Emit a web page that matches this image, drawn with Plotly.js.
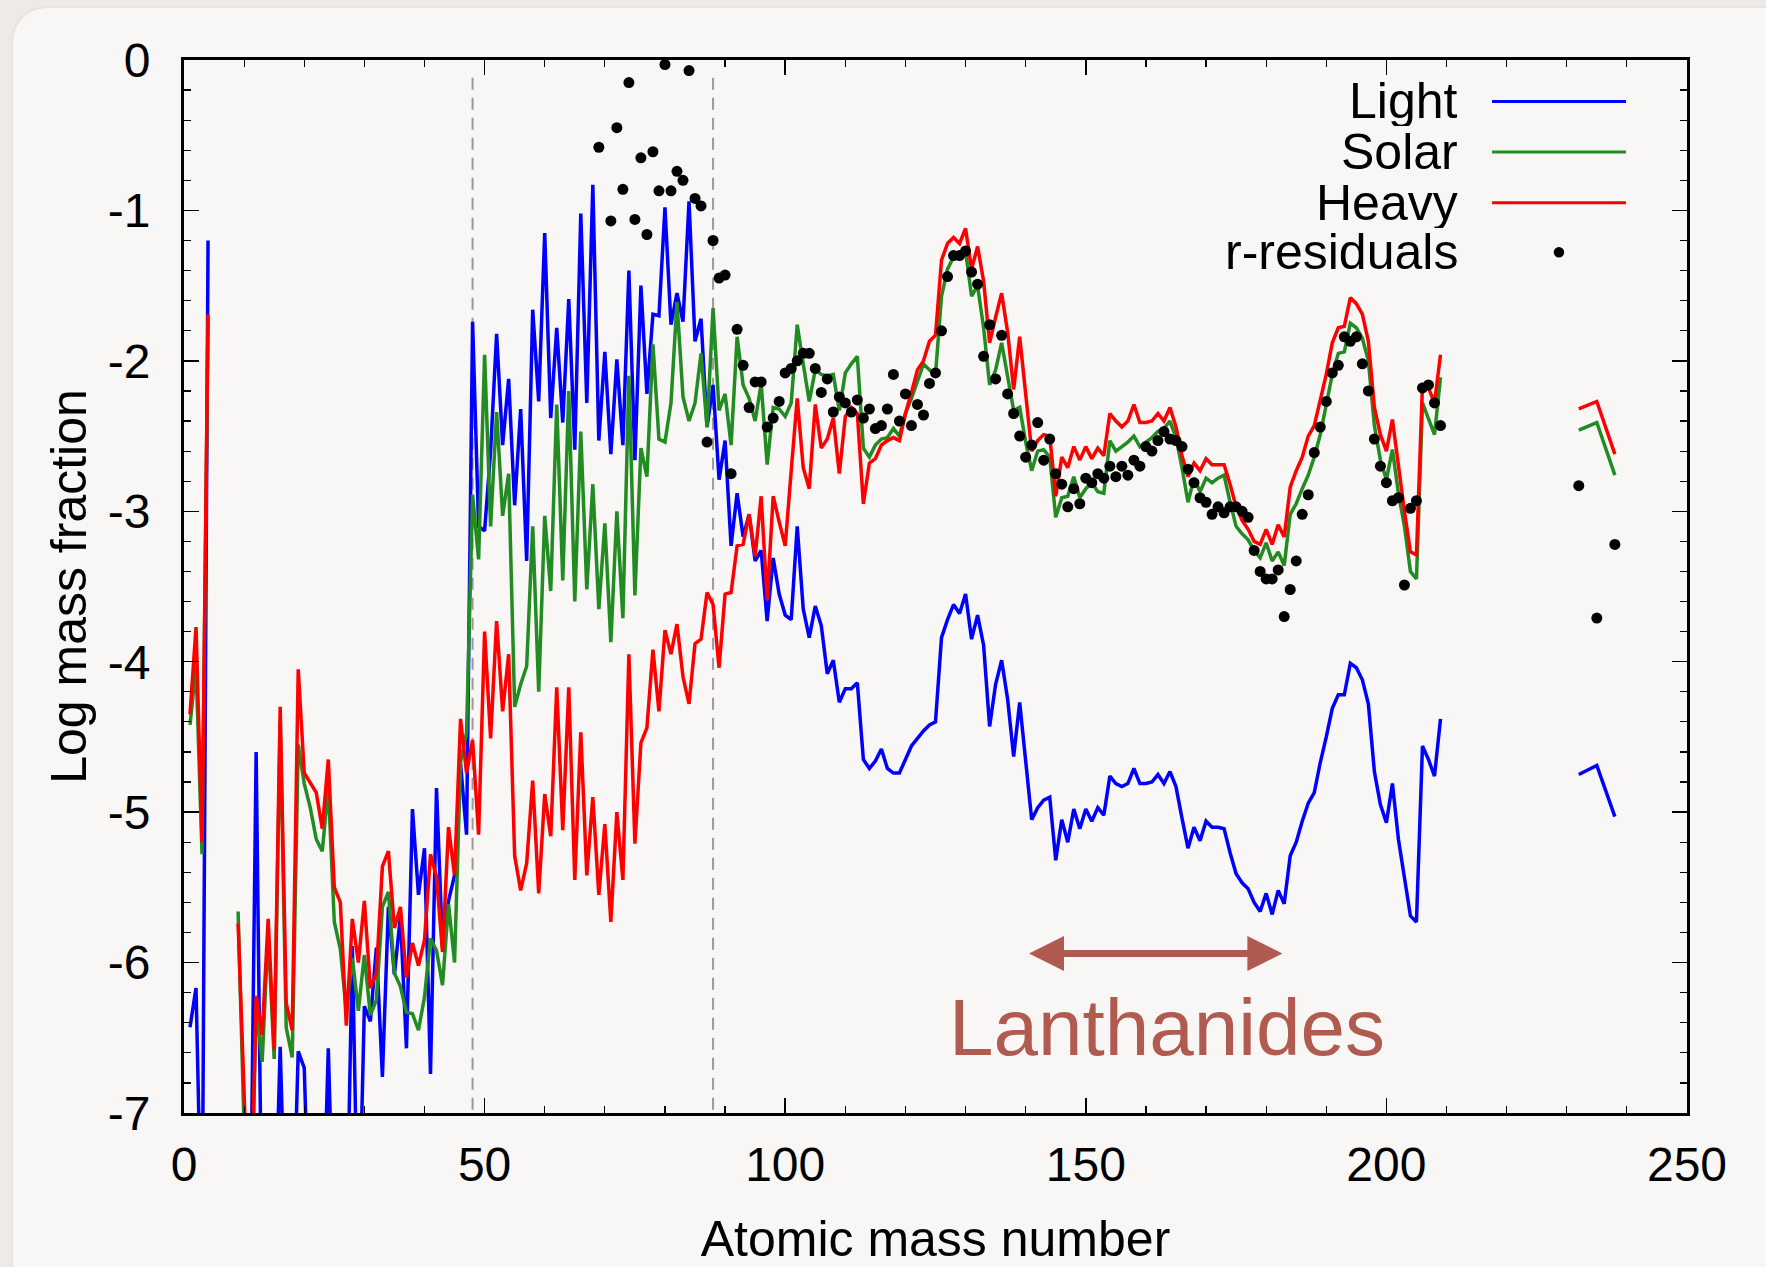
<!DOCTYPE html>
<html><head><meta charset="utf-8">
<script src="https://cdn.plot.ly/plotly-3.0.1.min.js"></script>
<style>
html,body{margin:0;padding:0;background:#eeebe6;width:1766px;height:1267px;overflow:hidden;}
#card{position:absolute;left:13px;top:8px;width:1800px;height:1320px;background:#f8f7f5;border-radius:34px;box-shadow:0 0 5px rgba(0,0,0,0.07);}
#chart{position:absolute;left:0;top:0;width:1766px;height:1267px;}
</style></head><body>
<div id="card"></div><div id="chart"></div>
<script>
// ---------- data (log10 mass fraction vs atomic mass number) ----------
const massNumber = [
  1,2,3,4,5,6,7,8,9,10,
  11,12,13,14,15,16,17,18,19,20,
  21,22,23,24,25,26,27,28,29,30,
  31,32,33,34,35,36,37,38,39,40,
  41,42,43,44,45,46,47,48,49,50,
  51,52,53,54,55,56,57,58,59,60,
  61,62,63,64,65,66,67,68,69,70,
  71,72,73,74,75,76,77,78,79,80,
  81,82,83,84,85,86,87,88,89,90,
  91,92,93,94,95,96,97,98,99,100,
  101,102,103,104,105,106,107,108,109,110,
  111,112,113,114,115,116,117,118,119,120,
  121,122,123,124,125,126,127,128,129,130,
  131,132,133,134,135,136,137,138,139,140,
  141,142,143,144,145,146,147,148,149,150,
  151,152,153,154,155,156,157,158,159,160,
  161,162,163,164,165,166,167,168,169,170,
  171,172,173,174,175,176,177,178,179,180,
  181,182,183,184,185,186,187,188,189,190,
  191,192,193,194,195,196,197,198,199,200,
  201,202,203,204,205,206,207,208,209
];
// values below -7 fall outside the plotted range
const lightFraction = [
  -6.43,-6.17,-8,-1.20,null,null,null,null,-8,-8,
  -8,-4.60,-8,-8,-8,-6.56,-8,-8,-6.59,-6.70,
  -8,-8,-8,-6.57,-8,-8,-8,-5.89,-8,-6.29,
  -6.39,-5.90,-6.76,-5.63,-6.08,-5.69,-6.57,-4.98,-5.55,-5.24,
  -6.74,-4.84,-5.90,-5.59,-5.42,-4.68,-5.15,-1.74,-3.10,-3.13,
  -2.60,-1.82,-2.56,-2.12,-2.96,-2.32,-3.33,-1.66,-2.27,-1.15,
  -2.38,-1.78,-2.41,-1.59,-2.59,-1.02,-2.28,-0.83,-2.53,-1.94,
  -2.62,-1.99,-2.56,-1.40,-2.66,-1.50,-2.22,-1.69,-1.70,-0.98,
  -1.76,-1.55,-1.74,-0.94,-1.87,-1.72,-2.44,-2.16,-2.79,-2.53,
  -3.23,-2.88,-3.17,-3.02,-3.33,-3.26,-3.73,-3.31,-3.55,-3.69,
  -3.72,-3.10,-3.65,-3.84,-3.63,-3.76,-4.08,-3.99,-4.27,-4.18,
  -4.18,-4.14,-4.65,-4.71,-4.66,-4.58,-4.71,-4.74,-4.74,-4.65,
  -4.56,-4.51,-4.46,-4.42,-4.40,-3.84,-3.72,-3.62,-3.68,-3.55,
  -3.85,-3.69,-3.89,-4.43,-4.15,-3.99,-4.25,-4.63,-4.27,-4.66,
  -5.05,-4.97,-4.92,-4.90,-5.32,-5.05,-5.20,-4.98,-5.11,-4.98,
  -5.06,-4.97,-5.02,-4.76,-4.81,-4.83,-4.81,-4.71,-4.81,-4.81,
  -4.80,-4.75,-4.81,-4.73,-4.83,-5.04,-5.24,-5.10,-5.19,-5.06,
  -5.10,-5.10,-5.11,-5.27,-5.41,-5.47,-5.51,-5.60,-5.66,-5.54,
  -5.68,-5.52,-5.61,-5.29,-5.20,-5.06,-4.94,-4.87,-4.67,-4.50,
  -4.31,-4.22,-4.22,-4.01,-4.04,-4.12,-4.28,-4.73,-4.95,-5.07,
  -4.81,-5.18,-5.45,-5.69,-5.73,-4.56,-4.65,-4.76,-4.38
];
const solarFraction = [
  -4.42,-4.03,-5.28,-1.72,null,null,null,null,-5.66,-7.10,
  -8,-6.30,-6.66,-5.80,-6.64,-4.40,-6.43,-6.63,-4.55,-4.81,
  -4.97,-5.18,-5.26,-4.83,-5.73,-5.91,-6.32,-5.97,-6.32,-5.95,
  -6.35,-6.25,-5.63,-5.53,-6.07,-6.16,-6.33,-6.34,-6.45,-6.23,
  -5.84,-5.92,-6.15,-5.61,-6.00,-4.67,-4.47,-2.89,-3.32,-1.96,
  -3.10,-2.34,-3.03,-2.75,-4.30,-4.15,-4.03,-3.10,-4.20,-3.03,
  -3.53,-2.29,-3.46,-2.20,-3.60,-2.47,-3.52,-2.82,-3.65,-3.08,
  -3.87,-3.00,-3.71,-2.10,-3.56,-2.58,-2.77,-1.89,-2.52,-2.54,
  -2.28,-1.61,-2.24,-2.40,-2.28,-1.95,-2.44,-1.65,-2.33,-2.22,
  -2.56,-1.84,-2.16,-2.25,-2.40,-2.15,-2.69,-2.31,-2.32,-2.37,
  -2.28,-1.76,-2.02,-2.27,-2.06,-2.09,-2.10,-2.09,-2.33,-2.08,
  -2.02,-1.97,-2.58,-2.64,-2.56,-2.52,-2.51,-2.45,-2.50,-2.35,
  -2.25,-2.13,-2.02,-2.06,-2.09,-1.57,-1.39,-1.31,-1.31,-1.27,
  -1.57,-1.50,-1.78,-2.16,-2.06,-1.88,-2.09,-2.33,-2.31,-2.54,
  -2.73,-2.60,-2.59,-2.64,-3.04,-2.91,-2.90,-2.77,-2.91,-2.85,
  -2.81,-2.87,-2.88,-2.53,-2.60,-2.57,-2.54,-2.50,-2.57,-2.54,
  -2.51,-2.47,-2.45,-2.40,-2.51,-2.71,-2.94,-2.78,-2.87,-2.78,
  -2.81,-2.78,-2.76,-2.94,-3.10,-3.15,-3.19,-3.26,-3.31,-3.21,
  -3.33,-3.27,-3.36,-3.02,-2.95,-2.85,-2.76,-2.64,-2.49,-2.29,
  -2.09,-1.95,-1.94,-1.75,-1.78,-1.85,-2.00,-2.43,-2.66,-2.79,
  -2.59,-2.88,-3.10,-3.40,-3.45,-2.28,-2.38,-2.49,-2.11
];
const heavyFraction = [
  -4.35,-3.77,-5.20,-1.69,null,null,null,null,-5.74,-7.05,
  -8,-6.22,-6.48,-5.71,-6.58,-4.30,-6.27,-6.45,-4.05,-4.74,
  -4.81,-4.87,-5.11,-4.65,-5.50,-5.60,-6.42,-5.71,-6.00,-5.59,
  -6.17,-6.07,-5.36,-5.26,-5.77,-5.63,-6.10,-5.87,-6.02,-5.85,
  -5.28,-5.43,-5.93,-5.10,-5.42,-4.38,-4.74,-4.52,-5.15,-3.80,
  -4.51,-3.73,-4.33,-3.95,-5.29,-5.52,-5.34,-4.79,-5.54,-4.88,
  -5.16,-4.17,-5.12,-4.17,-5.45,-4.47,-5.42,-4.90,-5.55,-5.08,
  -5.73,-5.00,-5.45,-3.95,-5.21,-4.54,-4.44,-3.92,-4.33,-3.79,
  -3.95,-3.75,-4.10,-4.28,-3.88,-3.85,-3.54,-3.62,-4.04,-3.55,
  -3.54,-3.23,-3.22,-3.02,-3.30,-2.90,-3.59,-2.90,-3.07,-3.23,
  -2.73,-2.25,-2.71,-2.85,-2.29,-2.58,-2.52,-2.38,-2.75,-2.37,
  -2.31,-2.35,-2.95,-2.68,-2.65,-2.56,-2.53,-2.51,-2.53,-2.35,
  -2.21,-2.06,-2.00,-1.87,-1.83,-1.33,-1.22,-1.18,-1.22,-1.12,
  -1.39,-1.24,-1.47,-1.88,-1.71,-1.55,-1.81,-2.19,-1.84,-2.25,
  -2.60,-2.53,-2.49,-2.50,-2.90,-2.64,-2.71,-2.57,-2.66,-2.57,
  -2.65,-2.58,-2.63,-2.35,-2.40,-2.44,-2.40,-2.29,-2.41,-2.41,
  -2.40,-2.35,-2.40,-2.31,-2.44,-2.63,-2.77,-2.68,-2.73,-2.65,
  -2.69,-2.69,-2.69,-2.82,-2.97,-3.06,-3.12,-3.20,-3.22,-3.12,
  -3.22,-3.09,-3.17,-2.84,-2.73,-2.64,-2.50,-2.43,-2.27,-2.09,
  -1.88,-1.78,-1.77,-1.58,-1.62,-1.69,-1.87,-2.31,-2.49,-2.60,
  -2.39,-2.71,-3.00,-3.27,-3.29,-2.16,-2.18,-2.28,-1.96
];
// actinides (Th, U)
const actinideMass = [232, 235, 238];
const lightActinides = [-4.75, -4.69, -5.03];
const solarActinides = [-2.46, -2.41, -2.76];
const heavyActinides = [-2.32, -2.27, -2.62];
// r-process residuals
const residualMass = [
  69,71,72,73,74,75,76,77,78,79,80,
  81,82,83,84,85,86,87,88,89,90,
  91,92,93,94,95,96,97,98,99,100,
  101,102,103,104,105,106,107,108,109,110,
  111,112,113,114,115,116,117,118,119,120,
  121,122,123,124,125,126,127,128,129,130,
  131,132,133,134,135,136,137,138,139,140,
  141,142,143,144,145,146,147,148,149,150,
  151,152,153,154,155,156,157,158,159,160,
  161,162,163,164,165,166,167,168,169,170,
  171,172,173,174,175,176,177,178,179,180,
  181,182,183,184,185,186,187,188,189,190,
  191,192,193,194,195,196,197,198,199,200,
  201,202,203,204,205,206,207,208,209,
  232,235,238
];
const residualFraction = [
  -0.58,-1.07,-0.45,-0.86,-0.15,-1.06,-0.65,-1.16,-0.61,-0.87,-0.03,
  -0.87,-0.74,-0.80,-0.07,-0.92,-0.97,-2.54,-1.20,-1.45,-1.43,
  -2.75,-1.79,-2.03,-2.31,-2.14,-2.14,-2.44,-2.38,-2.27,-2.08,
  -2.05,-2.00,-1.95,-1.95,-2.05,-2.21,-2.12,-2.34,-2.24,-2.28,
  -2.34,-2.26,-2.38,-2.32,-2.45,-2.43,-2.32,-2.09,-2.40,-2.22,
  -2.43,-2.29,-2.36,-2.15,-2.08,-1.80,-1.44,-1.30,-1.30,-1.27,
  -1.41,-1.49,-1.97,-1.76,-2.12,-1.83,-2.22,-2.35,-2.50,-2.64,
  -2.56,-2.41,-2.66,-2.52,-2.75,-2.82,-2.97,-2.85,-2.95,-2.78,
  -2.81,-2.75,-2.78,-2.70,-2.77,-2.70,-2.76,-2.66,-2.70,-2.57,
  -2.60,-2.53,-2.47,-2.52,-2.53,-2.57,-2.72,-2.81,-2.91,-2.94,
  -3.02,-2.97,-3.01,-2.97,-2.97,-3.00,-3.04,-3.26,-3.40,-3.45,
  -3.45,-3.39,-3.70,-3.52,-3.33,-3.02,-2.89,-2.61,-2.44,-2.27,
  -2.08,-2.03,-1.84,-1.87,-1.84,-2.02,-2.20,-2.52,-2.70,-2.81,
  -2.93,-2.91,-3.49,-2.98,-2.93,-2.18,-2.16,-2.28,-2.43,
  -2.83,-3.71,-3.22
];
const seriesNames = ['Light', 'Solar', 'Heavy', 'r-residuals'];
const xTickVals = [0, 50, 100, 150, 200, 250];
const xTickLabels = ['0', '50', '100', '150', '200', '250'];
const yTickVals = [0, -1, -2, -3, -4, -5, -6, -7];
const yTickLabels = ['0', '-1', '-2', '-3', '-4', '-5', '-6', '-7'];
const dividerMass = [48, 88];
const lanthanideRange = [140.3, 182.7];
const lanthanideLabel = 'Lanthanides';

// ---------- styles ----------
const FONT = 'Liberation Sans, Arial, Helvetica, sans-serif';
const colors = ['#0000ff', '#228b22', '#ff0000', '#000000'];
const annoColor = '#b05a50';

const lineSeries = [
  [lightFraction, lightActinides],
  [solarFraction, solarActinides],
  [heavyFraction, heavyActinides]
];
const traces = [];
lineSeries.forEach((s, i) => {
  traces.push({x: massNumber, y: s[0], mode: 'lines', name: seriesNames[i],
    line: {color: colors[i], width: 3.5}, connectgaps: false, showlegend: false, hoverinfo: 'skip'});
  traces.push({x: actinideMass, y: s[1], mode: 'lines', name: seriesNames[i],
    line: {color: colors[i], width: 3.5}, showlegend: false, hoverinfo: 'skip'});
});
traces.push({x: residualMass, y: residualFraction, mode: 'markers', name: seriesNames[3],
  marker: {color: '#000', size: 11}, cliponaxis: false, showlegend: false, hoverinfo: 'skip'});

// ---------- legend (gnuplot style: text right, sample on the right) ----------
const legY = [0.9607, 0.9126, 0.8645, 0.8174];
const legTextX = 0.849, legS0 = 0.8703, legS1 = 0.9594, legDot = 0.9148;
const shapes = [];
const annotations = [];
dividerMass.forEach(a => shapes.push({type: 'line', xref: 'x', yref: 'paper', x0: a, x1: a, y0: 0.003, y1: 0.99,
  line: {color: '#9a9a9a', width: 2, dash: '12px,8px'}, layer: 'below'}));
seriesNames.forEach((n, i) => {
  annotations.push({xref: 'paper', yref: 'paper', x: legTextX, y: legY[i], xanchor: 'right', yanchor: 'middle',
    text: n, showarrow: false, height: 50, font: {family: FONT, size: 50, color: '#000'}});
  if (i < 3) {
    shapes.push({type: 'line', xref: 'paper', yref: 'paper', x0: legS0, x1: legS1, y0: legY[i], y1: legY[i],
      line: {color: colors[i], width: 3}});
  } else {
    shapes.push({type: 'circle', xref: 'paper', yref: 'paper', x0: legDot - 0.0035, x1: legDot + 0.0035,
      y0: legY[i] - 0.005, y1: legY[i] + 0.005, fillcolor: '#000', line: {width: 0}});
  }
});
// lanthanide arrow + label
annotations.push({x: lanthanideRange[1], y: -5.94, ax: lanthanideRange[0], ay: -5.94, axref: 'x', ayref: 'y',
  xref: 'x', yref: 'y', text: '', showarrow: true, arrowhead: 2, startarrowhead: 2, arrowside: 'end+start',
  arrowwidth: 7, arrowsize: 1.0, startarrowsize: 1.0, arrowcolor: annoColor, standoff: 0, startstandoff: 0});
annotations.push({x: (lanthanideRange[0] + lanthanideRange[1]) / 2 + 2, y: -6.43, xref: 'x', yref: 'y',
  text: lanthanideLabel, showarrow: false, xanchor: 'center', yanchor: 'middle',
  font: {family: FONT, size: 80, color: annoColor}});

const axisCommon = {
  showline: true, linewidth: 3, linecolor: '#000', mirror: 'allticks',
  ticks: 'inside', ticklen: 15, tickwidth: 1.5, tickcolor: '#000',
  showgrid: false, zeroline: false, automargin: false,
  tickfont: {family: FONT, size: 48, color: '#000'}
};
const layout = {
  width: 1766, height: 1267,
  margin: {l: 184, r: 79, t: 60, b: 154, pad: 0},
  paper_bgcolor: 'rgba(0,0,0,0)', plot_bgcolor: 'rgba(0,0,0,0)',
  font: {family: FONT, color: '#000'},
  showlegend: false,
  xaxis: Object.assign({}, axisCommon, {
    range: [0, 250], tickmode: 'array', tickvals: xTickVals, ticktext: xTickLabels,
    ticklabelstandoff: 7,
    minor: {tickmode: 'linear', tick0: 0, dtick: 10, ticks: 'inside', ticklen: 7, tickwidth: 1.2, tickcolor: '#000'},
    title: {text: 'Atomic mass number', font: {family: FONT, size: 50, color: '#000'}, standoff: 45}
  }),
  yaxis: Object.assign({}, axisCommon, {
    range: [-7, 0], tickmode: 'array', tickvals: yTickVals, ticktext: yTickLabels,
    ticklabelstandoff: 21,
    minor: {tickmode: 'linear', tick0: 0, dtick: 0.2, ticks: 'inside', ticklen: 7, tickwidth: 1.2, tickcolor: '#000'},
    title: {text: 'Log mass fraction', font: {family: FONT, size: 50, color: '#000'}, standoff: 6}
  }),
  shapes: shapes,
  annotations: annotations
};
Plotly.newPlot('chart', traces, layout, {displayModeBar: false, staticPlot: true});
</script></body></html>
